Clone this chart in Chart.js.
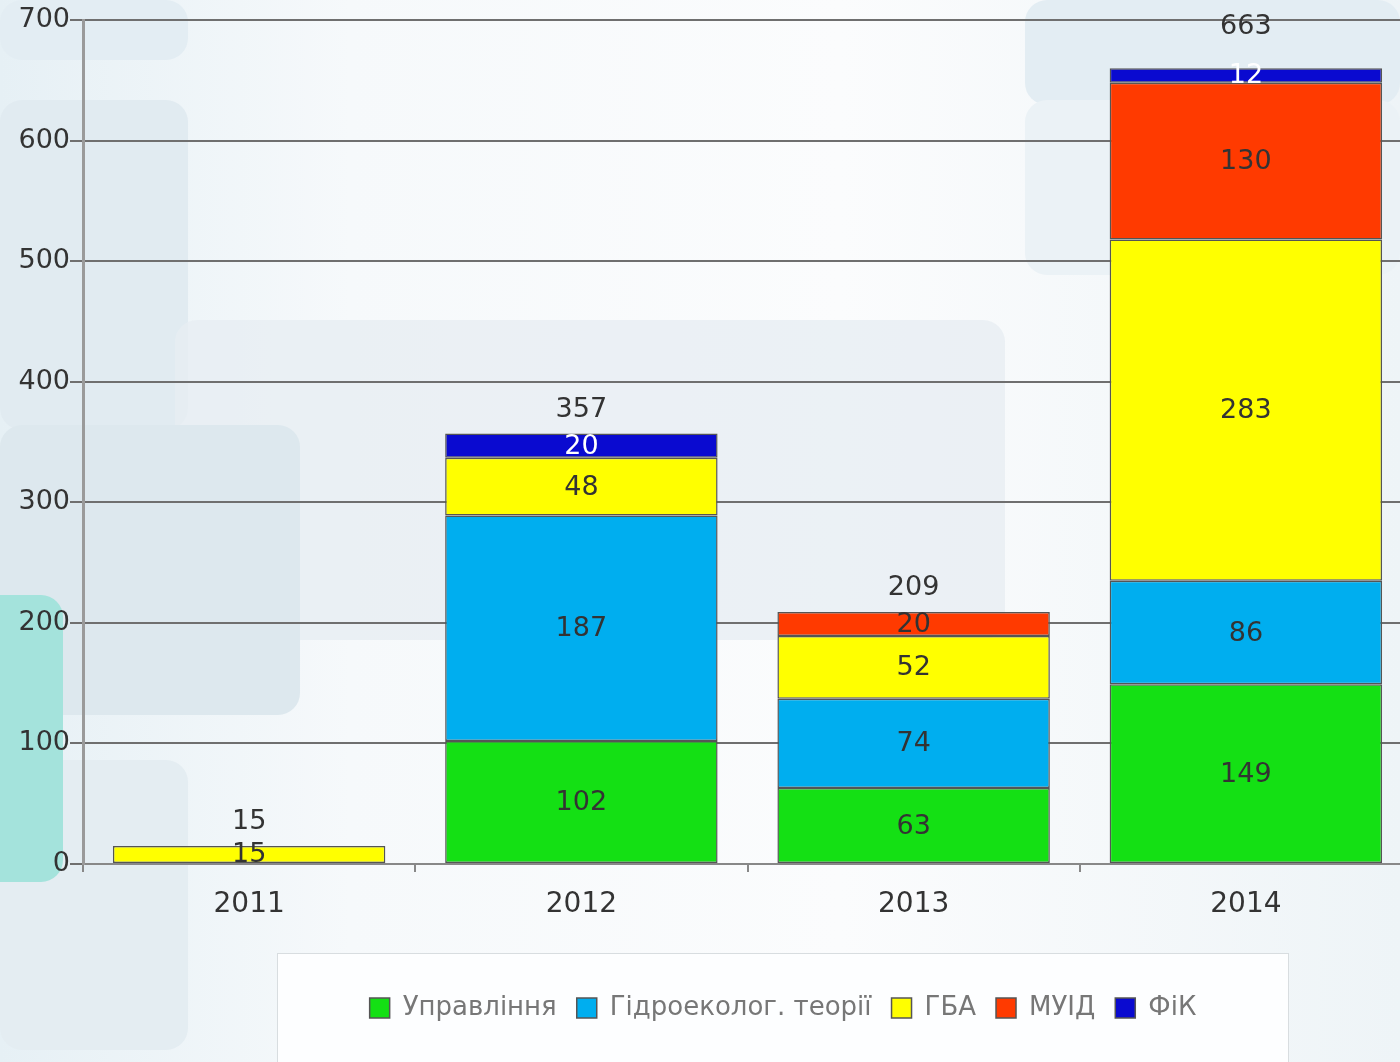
<!DOCTYPE html>
<html>
<head>
<meta charset="utf-8">
<script src="https://cdn.jsdelivr.net/npm/chart.js@4"></script>
<style>
  html, body { margin: 0; padding: 0; overflow: hidden; }
  body { width: 1400px; height: 1062px; position: relative;
         background: linear-gradient(90deg, #e6f0f5 0%, #f6f9fb 25%, #fbfcfd 60%, #eef4f7 100%); }
  .deco { position: absolute; border-radius: 22px; }
  #wrap { position: absolute; left: 0; top: 0; width: 1412px; height: 1062px; }
  #legendBox { position: absolute; left: 277px; top: 953px; width: 1010px; height: 120px;
               background: #fdfeff; border: 1px solid #d8dde0; }
</style>
</head>
<body>
<div class="deco" style="left:0;top:0;width:188px;height:60px;background:#e3edf3"></div>
<div class="deco" style="left:0;top:100px;width:188px;height:330px;background:#e1ebf1"></div>
<div class="deco" style="left:175px;top:320px;width:830px;height:320px;background:#e7eef3;opacity:.8"></div>
<div class="deco" style="left:0;top:425px;width:300px;height:290px;background:#dde8ee"></div>
<div class="deco" style="left:1025px;top:0;width:375px;height:105px;background:#e3edf3"></div>
<div class="deco" style="left:1025px;top:100px;width:375px;height:175px;background:#ebf2f6"></div>
<div class="deco" style="left:0;top:760px;width:188px;height:290px;background:#e4edf2"></div>
<div class="deco" style="left:0;top:595px;width:63px;height:287px;background:#a4e3dc;border-radius:0 22px 22px 0"></div>
<div id="legendBox"></div>
<div id="wrap"><canvas id="chart" width="1412" height="1062"></canvas></div>
<script>
// дані
const years = ['2011', '2012', '2013', '2014'];
const seriesNames = ['Управління', 'Гідроеколог. теорії', 'ГБА', 'МУІД', 'ФіК'];
const upravlinnia = [0, 102, 63, 149];
const teorii = [0, 187, 74, 86];
const gba = [15, 48, 52, 283];
const muid = [0, 0, 20, 130];
const fik = [0, 20, 0, 12];
const totals = [15, 357, 209, 663];
const yTicks = [0, 100, 200, 300, 400, 500, 600, 700];

const colors = ['#14e014', '#00aeef', '#ffff00', '#ff3a00', '#0a0ad0'];
const labelColors = ['#333', '#333', '#333', '#333', '#ffffff'];

const ctx = document.getElementById('chart');

// підписи значень всередині сегментів і сума над стовпцем
const valueLabels = {
  id: 'valueLabels',
  afterDatasetsDraw(chart) {
    const c = chart.ctx;
    c.save();
    c.font = '27px "DejaVu Sans"';
    c.textAlign = 'center';
    c.textBaseline = 'middle';
    chart.data.datasets.forEach((ds, i) => {
      const meta = chart.getDatasetMeta(i);
      meta.data.forEach((bar, j) => {
        if (!ds.data[j]) return;
        c.fillStyle = labelColors[i];
        c.fillText(ds.data[j], bar.x, (bar.y + bar.base) / 2 + 1);
      });
    });
    const yScale = chart.scales.y;
    const xScale = chart.scales.x;
    c.fillStyle = '#333';
    totals.forEach((t, j) => {
      // верхню суму підняли вище, щоб не налазила на мітку
      const lift = t > 600 ? 38 : 24;
      c.fillText(t, xScale.getPixelForValue(j), yScale.getPixelForValue(t) - lift);
    });
    c.restore();
  }
};

// легенда стоїть правіше центру полотна, як на оригіналі
const shiftLegend = {
  id: 'shiftLegend',
  afterLayout(chart) {
    chart.legend.left += 77;
    chart.legend.right += 77;
  }
};

new Chart(ctx, {
  type: 'bar',
  data: {
    labels: years,
    datasets: [upravlinnia, teorii, gba, muid, fik].map((d, i) => ({
      label: seriesNames[i],
      data: d,
      backgroundColor: colors[i],
      borderColor: '#555',
      borderWidth: 1.5,
      borderSkipped: false,
      barPercentage: 0.82,
      categoryPercentage: 1
    }))
  },
  options: {
    responsive: false,
    animation: false,
    layout: { padding: { top: 20, bottom: 31, right: 0, left: 0 } },
    plugins: {
      tooltip: { enabled: false },
      legend: {
        position: 'bottom',
        labels: {
          font: { size: 26, family: 'DejaVu Sans' },
          color: '#777',
          boxWidth: 20,
          boxHeight: 20,
          padding: 20
        }
      }
    },
    scales: {
      x: {
        stacked: true,
        afterFit(scale) { scale.height = 111; },
        grid: { offset: true, drawOnChartArea: false, drawTicks: true, tickLength: 8, color: '#888', lineWidth: 2 },
        border: { color: '#888', width: 2 },
        ticks: { font: { size: 28, family: 'DejaVu Sans' }, color: '#333', padding: 16 }
      },
      y: {
        stacked: true,
        min: 0,
        max: 700,
        afterFit(scale) { scale.width = 83; },
        afterBuildTicks(scale) { scale.ticks = yTicks.map(v => ({ value: v })); },
        grid: { color: '#6f6f6f', lineWidth: 2, tickLength: 13 },
        border: { color: '#9a9a9a', width: 3 },
        ticks: { font: { size: 27, family: 'DejaVu Sans' }, color: '#333', padding: 0 }
      }
    }
  },
  plugins: [valueLabels, shiftLegend]
});
</script>
</body>
</html>
